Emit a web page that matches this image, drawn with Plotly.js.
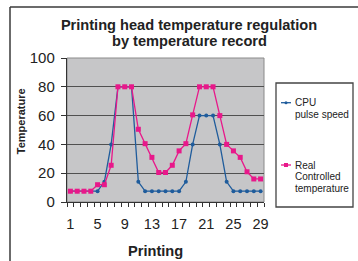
<!DOCTYPE html>
<html>
<head>
<meta charset="utf-8">
<script src="https://cdn.plot.ly/plotly-3.0.1.min.js"></script>
<style>html,body{margin:0;padding:0;background:#fff;}#chart{width:358px;height:261px;}</style>
</head>
<body>
<div id="chart"></div>
<script>
// ---- data ----
const printing = [1,2,3,4,5,6,7,8,9,10,11,12,13,14,15,16,17,18,19,20,21,22,23,24,25,26,27,28,29];
const cpuPulseSpeed = [7.5,7.5,7.5,7.5,7.5,14,40,80,80,80,14,7.5,7.5,7.5,7.5,7.5,7.5,14,40,60,60,60,40,14,7.5,7.5,7.5,7.5,7.5];
const realControlledTemp = [7.5,7.5,7.5,7.5,12,12,25.5,80,80,80,50.5,40.5,31,20.5,20.5,25.5,35.5,40.5,60.5,80,80,80,60,40,35.5,31,21,16,16];
const xTickLabels = [1,5,9,13,17,21,25,29];
const yTickLabels = [0,20,40,60,80,100];
const seriesNames = ["CPU", "Real"];

// ---- layout helpers ----
const W = 358, H = 261;
const M = {l: 67, r: 94, t: 58, b: 59};
const PW = W - M.l - M.r, PH = H - M.t - M.b;
const px = p => (p - M.l) / PW;
const py = p => (H - M.b - p) / PH;

const BLUE = "#1f5c9c", PINK = "#e8188a";
const FONT = "Liberation Sans, Arial, Helvetica, sans-serif";

const traces = [
  {x: printing, y: cpuPulseSpeed, name: seriesNames[0], type: "scatter", mode: "lines+markers",
   line: {color: BLUE, width: 1.3}, marker: {color: BLUE, size: 4, symbol: "circle"}},
  {x: printing, y: realControlledTemp, name: seriesNames[1], type: "scatter", mode: "lines+markers",
   line: {color: PINK, width: 1.3}, marker: {color: PINK, size: 5, symbol: "square"}}
];

const shapes = [
  // outer frame (left and top)
  {type: "line", xref: "paper", yref: "paper", x0: px(10), x1: px(10), y0: py(7), y1: py(270), line: {color: "#3a3a3a", width: 1.5}},
  {type: "line", xref: "paper", yref: "paper", x0: px(10), x1: px(370), y0: py(7), y1: py(7), line: {color: "#3a3a3a", width: 1.5}},
  // plot area light border (top/right)
  {type: "rect", xref: "paper", yref: "paper", x0: 0, x1: 1, y0: 0, y1: 1, line: {color: "#8a8a8a", width: 1}, layer: "below"},
  // legend box
  {type: "rect", xref: "paper", yref: "paper", x0: px(276), x1: px(353), y0: py(83), y1: py(207), line: {color: "#444", width: 1.3}, fillcolor: "#fff"},
  // legend samples
  {type: "line", xref: "paper", yref: "paper", x0: px(281), x1: px(291), y0: py(102.7), y1: py(102.7), line: {color: BLUE, width: 1.3}},
  {type: "circle", xref: "paper", yref: "paper", x0: px(284.5), x1: px(287.5), y0: py(101.2), y1: py(104.2), line: {color: BLUE, width: 0}, fillcolor: BLUE},
  {type: "line", xref: "paper", yref: "paper", x0: px(281), x1: px(291), y0: py(165), y1: py(165), line: {color: PINK, width: 1.3}},
  {type: "rect", xref: "paper", yref: "paper", x0: px(284), x1: px(288), y0: py(163), y1: py(167), line: {color: PINK, width: 0}, fillcolor: PINK}
];

function ann(text, x, y, size, opts) {
  return Object.assign({text: text, xref: "paper", yref: "paper", x: px(x), y: py(y), showarrow: false,
    xanchor: "left", yanchor: "middle", font: {family: FONT, size: size, color: "#222"}}, opts || {});
}

const annotations = [
  ann("by temperature record", 189, 41, 14.6, {xanchor: "center", font: {family: FONT, size: 14.6, color: "#222", weight: "bold"}}),
  ann("<b>Temperature</b>", 20.5, 121.7, 11, {xanchor: "center", textangle: -90}),
  ann("<b>Printing</b>", 155.5, 251, 14.6, {xanchor: "center"}),
  ann("CPU", 292.5, 102.7, 10),
  ann("pulse speed", 292.5, 114, 10),
  ann("Real", 292.5, 165, 10),
  ann("Controlled", 292.5, 176.5, 10),
  ann("temperature", 292.5, 188, 10)
];

const layout = {
  width: W, height: H,
  margin: M,
  paper_bgcolor: "#ffffff",
  plot_bgcolor: "#c6c6c8",
  showlegend: false,
  title: {text: "<b>Printing head temperature regulation</b>", x: 189 / W, xanchor: "center",
          y: 1 - 25 / H, yanchor: "middle", font: {family: FONT, size: 14.6, color: "#222"}},
  xaxis: {
    type: "linear", range: [0.5, 29.5], tickvals: xTickLabels, ticktext: xTickLabels.map(String),
    ticks: "", showgrid: false, zeroline: false, showline: true, linecolor: "#333", linewidth: 1.2,
    tickfont: {family: FONT, size: 14.5, color: "#222"}, ticklabelstandoff: 8,
    minor: {ticks: "outside", tick0: 0.5, dtick: 1, ticklen: 4, tickcolor: "#333", tickwidth: 1, showgrid: false}
  },
  yaxis: {
    range: [0, 100], tickvals: yTickLabels, ticks: "outside", ticklen: 5, tickcolor: "#333",
    showgrid: true, gridcolor: "#505050", gridwidth: 1.2, zeroline: false,
    showline: true, linecolor: "#333", linewidth: 1.2,
    tickfont: {family: FONT, size: 15, color: "#222"}, ticklabelstandoff: 3
  },
  shapes: shapes,
  annotations: annotations
};

Plotly.newPlot("chart", traces, layout, {displayModeBar: false, staticPlot: true});
</script>
</body>
</html>
